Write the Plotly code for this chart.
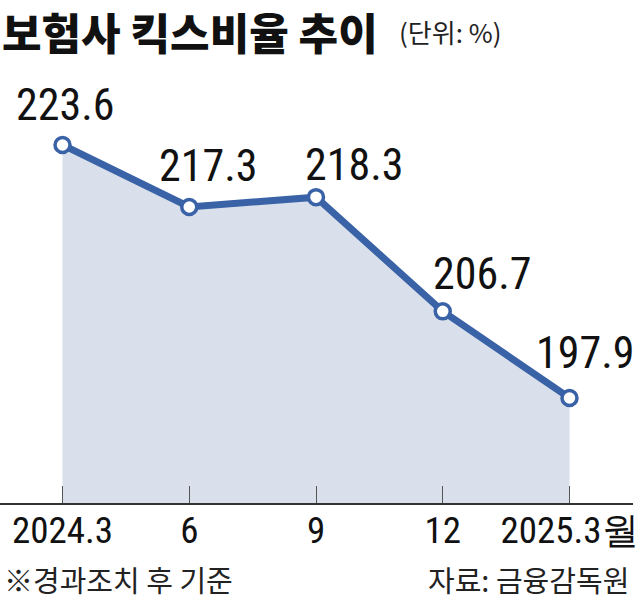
import plotly.graph_objects as go

categories = ["2024.3", "6", "9", "12", "2025.3월"]
values = [223.6, 217.3, 218.3, 206.7, 197.9]
labels = ["223.6", "217.3", "218.3", "206.7", "197.9"]

title = "보험사 킥스비율 추이"
unit = "(단위: %)"
note = "※경과조치 후 기준"
source = "자료: 금융감독원"

# label offsets (styling)
label_dx = [2, 19, 38, 39, 15]
label_dy = [40, 41, 32, 37, 45]

LINE = "#3a62a6"
FILL = "#d9e0eb"
NUM_FONT = "Roboto Condensed, Liberation Sans Narrow, DejaVu Sans Condensed, DejaVu Sans"
KR_FONT = "Noto Sans CJK KR"

xs = list(range(len(categories)))

fig = go.Figure()
fig.add_trace(go.Scatter(
    x=xs, y=values, mode="lines+markers",
    line=dict(color=LINE, width=7),
    fill="tozeroy", fillcolor=FILL,
    marker=dict(size=15, color="white", line=dict(color=LINE, width=3.5)),
    hoverinfo="skip", showlegend=False,
))

W, H = 638, 599
T, B = 100, 96
plot_h = H - T - B

def py(ypx):
    return (H - B - ypx) / plot_h

annotations = []
for i, (v, lab) in enumerate(zip(values, labels)):
    annotations.append(dict(
        x=i, y=v, xref="x", yref="y", text=lab, showarrow=False,
        xanchor="center", yanchor="middle", xshift=label_dx[i], yshift=label_dy[i],
        font=dict(family=NUM_FONT, size=44, color="#111"),
    ))

annotations.append(dict(
    x=0, y=py(31), xref="paper", yref="paper", text=title, showarrow=False,
    xanchor="left", yanchor="middle",
    font=dict(family=KR_FONT, size=43, color="#111", weight=900),
))
annotations.append(dict(
    x=400 / W, y=py(32), xref="paper", yref="paper", text=unit, showarrow=False,
    xanchor="left", yanchor="middle",
    font=dict(family=KR_FONT, size=26, color="#222"),
))
annotations.append(dict(
    x=0, y=py(579), xref="paper", yref="paper", text=note, showarrow=False,
    xanchor="left", yanchor="middle", xshift=2,
    font=dict(family=KR_FONT, size=29, color="#222"),
))
annotations.append(dict(
    x=1, y=py(579), xref="paper", yref="paper", text=source, showarrow=False,
    xanchor="right", yanchor="middle", xshift=-2,
    font=dict(family=KR_FONT, size=29, color="#222"),
))

x0px, x4px = 63, 574
unit_px = (x4px - x0px) / 4
y_lo = 187.23
y_hi = y_lo + plot_h / 9.844

fig.update_layout(
    width=W, height=H,
    margin=dict(l=0, r=0, t=T, b=B, pad=0),
    paper_bgcolor="white", plot_bgcolor="white",
    xaxis=dict(
        range=[-x0px / unit_px, 4 + (W - x4px) / unit_px],
        tickmode="array", tickvals=xs, ticktext=categories,
        ticks="inside", ticklen=17, tickwidth=1.2, tickcolor="#555",
        showline=True, linecolor="#333", linewidth=1.5,
        showgrid=False, zeroline=False,
        ticklabeloverflow="allow", ticklabelstandoff=-6,
        tickfont=dict(family=NUM_FONT, size=37, color="#111"),
        fixedrange=True,
    ),
    yaxis=dict(
        range=[y_lo, y_hi], visible=False, showgrid=False, zeroline=False,
        fixedrange=True,
    ),
    annotations=annotations,
)

fig.write_html(
    "out.html",
    config={"displayModeBar": False},
    post_script="document.body.style.margin='0';document.body.style.padding='0';",
)
